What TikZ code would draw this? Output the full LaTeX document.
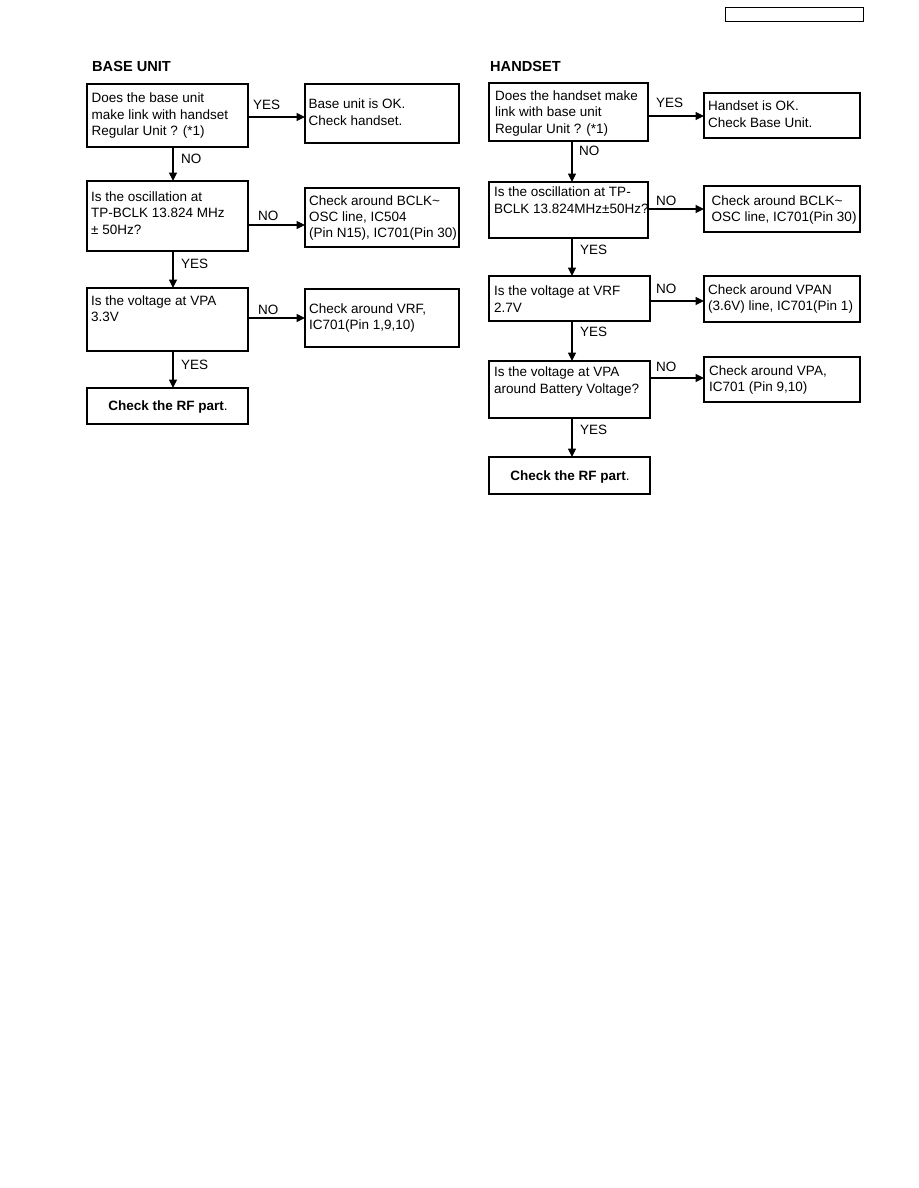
\documentclass[tikz,border=0pt]{standalone}
\usepackage{fontspec}
\setmainfont{Liberation Sans}
\usetikzlibrary{arrows.meta}
\newcommand{\mylines}[1]{\begin{tabular}[t]{@{}l@{}}#1\end{tabular}}
\begin{document}
\begin{tikzpicture}[x=1pt,y=-1pt,
  box/.style={draw,line width=1.1pt,inner sep=0pt,outer sep=0pt,anchor=north west},
  txt/.style={inner sep=0pt,anchor=base west,font=\fontsize{13.5}{16.3}\selectfont},
  ttl/.style={inner sep=0pt,anchor=base west,font=\fontsize{14.6}{17}\selectfont\bfseries},
  arr/.style={line width=1.1pt,-{Triangle[length=8.5pt,width=8pt]}}]
\useasboundingbox (0,0) rectangle (918,1188);

% header box
\node[box,line width=1pt,minimum width=138pt,minimum height=14pt] (hdr) at (725,8) {};

% ===== BASE UNIT =====
\node[ttl] (tb) at (92,72) {BASE UNIT};

\node[box,minimum width=161pt,minimum height=63pt] (b1) at (87,84) {};
\node[txt] (b1t) at (91.5,103) {\mylines{Does the base unit\\make link with handset\\Regular Unit ? (*1)}};
\node[box,minimum width=154pt,minimum height=59pt] (b1r) at (305,84) {};
\node[txt] (b1rt) at (308.5,109) {\mylines{Base unit is OK.\\Check handset.}};

\node[box,minimum width=161pt,minimum height=70pt] (b2) at (87,181) {};
\node[txt] (b2t) at (91,201.5) {\mylines{Is the oscillation at\\TP-BCLK 13.824 MHz\\± 50Hz?}};
\node[box,minimum width=154pt,minimum height=59pt] (b2r) at (305,188) {};
\node[txt] (b2rt) at (309,205) {\mylines{Check around BCLK\textasciitilde\\OSC line, IC504\\(Pin N15), IC701(Pin 30)}};

\node[box,minimum width=161pt,minimum height=63pt] (b3) at (87,288) {};
\node[txt] (b3t) at (91,305) {\mylines{Is the voltage at VPA\\3.3V}};
\node[box,minimum width=154pt,minimum height=58pt] (b3r) at (305,289) {};
\node[txt] (b3rt) at (309,313) {\mylines{Check around VRF,\\IC701(Pin 1,9,10)}};

\node[box,minimum width=161pt,minimum height=36pt] (b4) at (87,388) {};
\node[txt,anchor=base] (b4t) at (168,410) {\textbf{Check the RF part}.};

\draw[arr] ([yshift=-1.5pt]b1.east) -- ([yshift=-1.5pt]b1.east -| b1r.west);
\draw[arr] ([yshift=-9pt]b2.east) -- ([yshift=-9pt]b2.east -| b2r.west);
\draw[arr] ([yshift=1.5pt]b3.east) -- ([yshift=1.5pt]b3.east -| b3r.west);
\draw[arr] ([xshift=5.5pt]b1.south) -- ([xshift=5.5pt]b2.north);
\draw[arr] ([xshift=5.5pt]b2.south) -- ([xshift=5.5pt]b3.north);
\draw[arr] ([xshift=5.5pt]b3.south) -- ([xshift=5.5pt]b4.north);

\node[txt] (y1) at (253,110) {YES};
\node[txt] (n1) at (181,164) {NO};
\node[txt] (n2) at (258,220) {NO};
\node[txt] (y2) at (181,268) {YES};
\node[txt] (n3) at (258,314) {NO};
\node[txt] (y3) at (181,369) {YES};

% ===== HANDSET =====
\node[ttl] (th) at (490,72) {HANDSET};

\node[box,minimum width=159pt,minimum height=58pt] (h1) at (489,83) {};
\node[txt] (h1t) at (495,100.7) {\mylines{Does the handset make\\link with base unit\\Regular Unit ? (*1)}};
\node[box,minimum width=156pt,minimum height=45pt] (h1r) at (704,93) {};
\node[txt] (h1rt) at (708,111) {\mylines{Handset is OK.\\Check Base Unit.}};

\node[box,minimum width=159pt,minimum height=56pt] (h2) at (489,182) {};
\node[txt] (h2t) at (494,196.7) {\mylines{Is the oscillation at TP-\\BCLK 13.824MHz±50Hz?}};
\node[box,minimum width=156pt,minimum height=46pt] (h2r) at (704,186) {};
\node[txt] (h2rt) at (711.5,205) {\mylines{Check around BCLK\textasciitilde\\OSC line, IC701(Pin 30)}};

\node[box,minimum width=161pt,minimum height=45pt] (h3) at (489,276) {};
\node[txt] (h3t) at (494,295.7) {\mylines{Is the voltage at VRF\\2.7V}};
\node[box,minimum width=156pt,minimum height=46pt] (h3r) at (704,276) {};
\node[txt] (h3rt) at (708,294.3) {\mylines{Check around VPAN\\(3.6V) line, IC701(Pin 1)}};

\node[box,minimum width=161pt,minimum height=57pt] (h4) at (489,361) {};
\node[txt] (h4t) at (494,376.7) {\mylines{Is the voltage at VPA\\around Battery Voltage?}};
\node[box,minimum width=156pt,minimum height=45pt] (h4r) at (704,357) {};
\node[txt] (h4rt) at (709,375) {\mylines{Check around VPA,\\IC701 (Pin 9,10)}};

\node[box,minimum width=161pt,minimum height=37pt] (h5) at (489,457) {};
\node[txt,anchor=base] (h5t) at (570,480) {\textbf{Check the RF part}.};

\draw[arr] ([yshift=-4pt]h1.east) -- ([yshift=-4pt]h1.east -| h1r.west);
\draw[arr] ([yshift=1pt]h2.east) -- ([yshift=1pt]h2.east -| h2r.west);
\draw[arr] ([yshift=-2.5pt]h3.east) -- ([yshift=-2.5pt]h3.east -| h3r.west);
\draw[arr] ([yshift=11.5pt]h4.east) -- ([yshift=11.5pt]h4.east -| h4r.west);
\draw[arr] (572,141) coordinate (h1s) -- (h1s |- h2.north);
\draw[arr] (572,238) coordinate (h2s) -- (h2s |- h3.north);
\draw[arr] (572,321) coordinate (h3s) -- (h3s |- h4.north);
\draw[arr] (572,418) coordinate (h4s) -- (h4s |- h5.north);

\node[txt] (hy1) at (656,108) {YES};
\node[txt] (hn1) at (579,155) {NO};
\node[txt] (hn2) at (656,205.7) {NO};
\node[txt] (hy2) at (580,254) {YES};
\node[txt] (hn3) at (656,293) {NO};
\node[txt] (hy3) at (580,336.7) {YES};
\node[txt] (hn4) at (656,371.7) {NO};
\node[txt] (hy4) at (580,434.3) {YES};
\end{tikzpicture}
\end{document}
